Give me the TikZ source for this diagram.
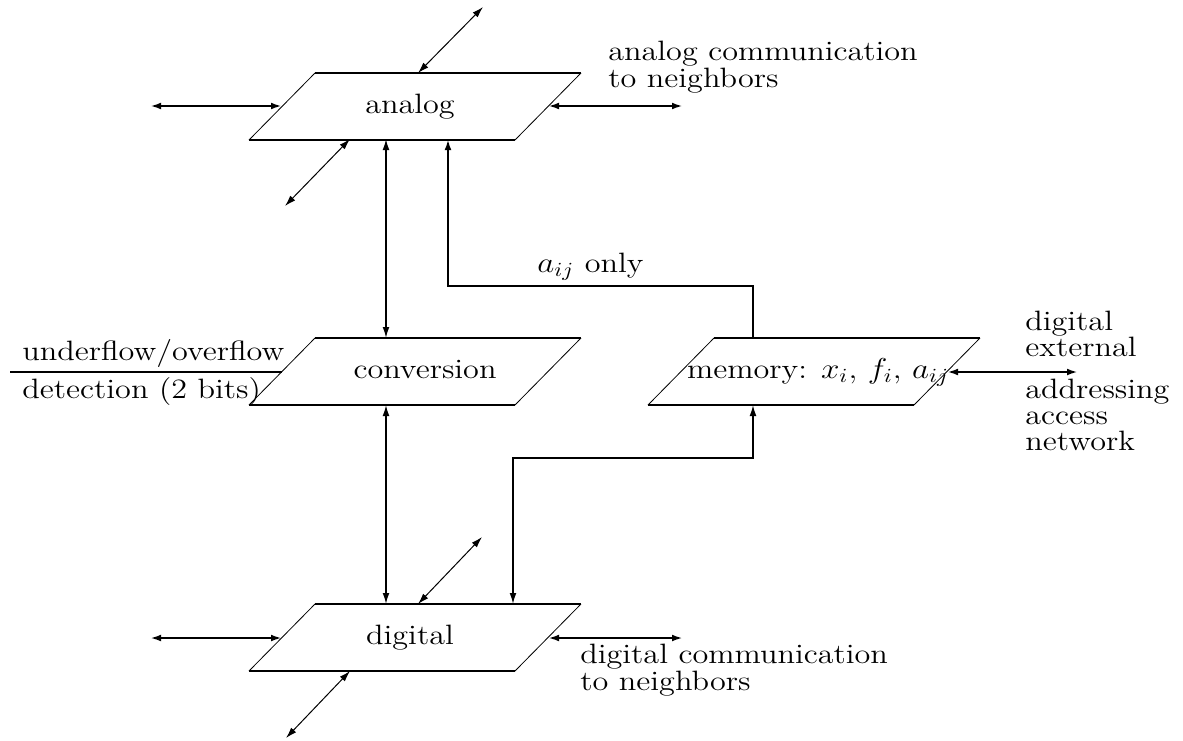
\documentclass[tikz,border=0pt]{standalone}
\usepackage{graphicx}
\usetikzlibrary{arrows.meta}
\newcommand\sx[1]{\scalebox{1.15}[1]{#1}}
\newcommand\pgram[3]{%
  \coordinate (#1TL) at (#2+66,#3);
  \coordinate (#1TR) at (#2+332,#3);
  \coordinate (#1BL) at (#2,#3+67);
  \coordinate (#1BR) at (#2+266,#3+67);
  \draw[hedge] (#1TL)--(#1TR) (#1BL)--(#1BR);
  \draw[sedge] (#1BL)--(#1TL) (#1BR)--(#1TR);}
\begin{document}
\begin{tikzpicture}[x=0.5pt,y=-0.5pt,
  lbl/.style={inner sep=0pt, font=\fontsize{14}{15}\selectfont},
  hedge/.style={line width=1.2pt},
  sedge/.style={line width=0.4pt},
  both/.style={{Latex[length=5.5pt,width=3.4pt]}-{Latex[length=5.5pt,width=3.4pt]}},
  toend/.style={-{Latex[length=5.5pt,width=3.4pt]}},
  thickc/.style={line width=1.1pt},
  medc/.style={line width=0.7pt},
  thinc/.style={line width=0.5pt}]
\useasboundingbox (0,0) rectangle (1183,740);

% boxes
\pgram{a}{249}{73}
\pgram{c}{249}{338}
\pgram{m}{648}{338}
\pgram{d}{249}{604}

% box labels
\node[lbl, anchor=base] (analog) at (410,113) {\sx{analog}};
\node[lbl, anchor=base] (conv) at (425,378) {\sx{conversion}};
\node[lbl, anchor=base] (mem) at (818,378) {\sx{memory: $x_i$, $f_i$, $a_{ij}$}};
\node[lbl, anchor=base] (digital) at (410,644) {\sx{digital}};

% anchor points on boxes
\coordinate (aL) at (282,106);   \coordinate (aR) at (548,106);
\coordinate (aT) at (418,73);    \coordinate (aB) at (350,139);
\coordinate (aBv) at (386,139);  \coordinate (aBa) at (448,139);
\coordinate (cTv) at (386,338);  \coordinate (cBv) at (386,405);
\coordinate (cL) at (282,372);
\coordinate (mT) at (753,338);   \coordinate (mB) at (753,405);
\coordinate (mR) at (947,372);
\coordinate (dL) at (282,638);   \coordinate (dR) at (548,638);
\coordinate (dT) at (418,604);   \coordinate (dB) at (350,671);
\coordinate (dTv) at (386,604);  \coordinate (dTm) at (513,604);

% free ends
\coordinate (aLf) at (150,106);  \coordinate (aRf) at (683,106);
\coordinate (aTf) at (483,7);    \coordinate (aBf) at (285,206);
\coordinate (dLf) at (150,638);  \coordinate (dRf) at (683,638);
\coordinate (dTf) at (482,537);  \coordinate (dBf) at (286,738);
\coordinate (ufL) at (10,372);   \coordinate (mRf) at (1078,372);

% analog neighbours
\draw[thickc,both] (aLf) -- (aL);
\draw[thickc,both] (aR) -- (aRf);
\draw[thinc,both] (aT) -- (aTf);
\draw[thinc,both] (aB) -- (aBf);

% digital neighbours
\draw[thickc,both] (dLf) -- (dL);
\draw[thickc,both] (dR) -- (dRf);
\draw[thinc,both] (dT) -- (dTf);
\draw[thinc,both] (dB) -- (dBf);

% vertical links
\draw[medc,both] (aBv) -- (cTv);
\draw[medc,both] (cBv) -- (dTv);
\draw[thickc,toend] (mT) -- ++(0,-52) -| (aBa);
\draw[medc,both] (dTm) -- ++(0,-146) -| (mB);
\draw[thickc,both] (mR) -- (mRf);
\draw[thickc] (ufL) -- (cL);

% labels
\node[lbl, anchor=base west] (ac1) at (608,60) {\sx{analog communication}};
\node[lbl, anchor=base west] (ac2) at (608,87) {\sx{to neighbors}};
\node[lbl, anchor=base west] (uf1) at (22,360) {\sx{underflow/overflow}};
\node[lbl, anchor=base west] (uf2) at (22,398) {\sx{detection (2 bits)}};
\node[lbl, anchor=base west] (aij) at (537,272) {\sx{$a_{ij}$ only}};
\node[lbl, anchor=base west] (de1) at (1025,330) {\sx{digital}};
\node[lbl, anchor=base west] (de2) at (1025,356) {\sx{external}};
\node[lbl, anchor=base west] (de3) at (1025,398) {\sx{addressing}};
\node[lbl, anchor=base west] (de4) at (1025,424) {\sx{access}};
\node[lbl, anchor=base west] (de5) at (1025,450) {\sx{network}};
\node[lbl, anchor=base west] (dc1) at (580,663) {\sx{digital communication}};
\node[lbl, anchor=base west] (dc2) at (580,690) {\sx{to neighbors}};
\end{tikzpicture}
\end{document}
